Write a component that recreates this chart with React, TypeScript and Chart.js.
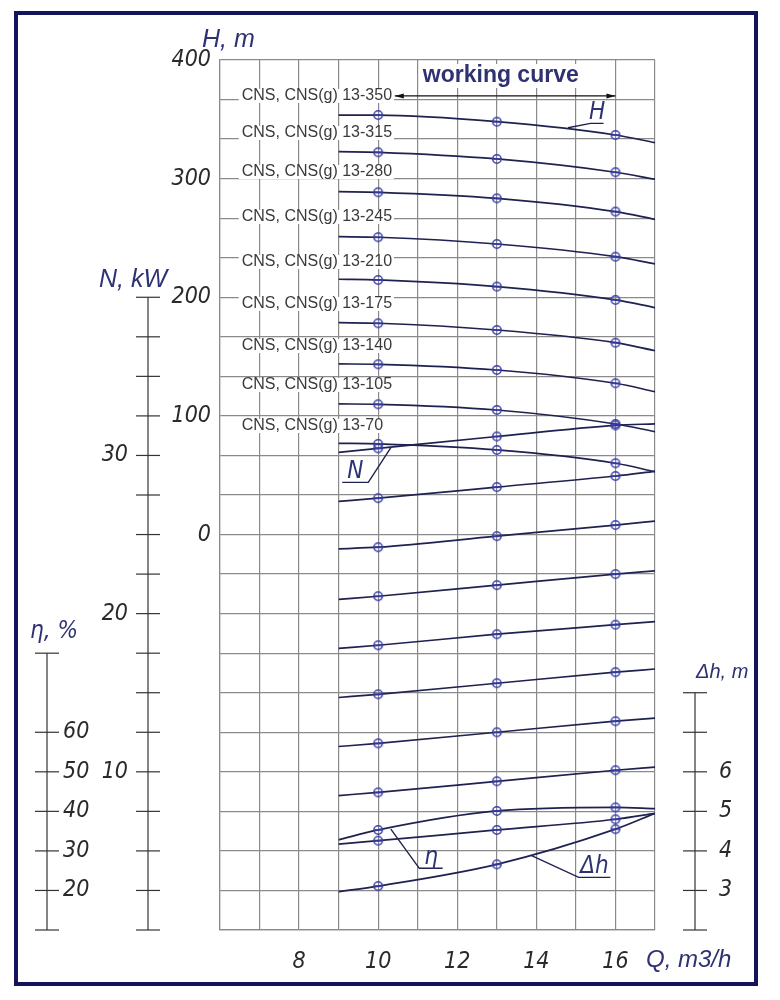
import { useEffect, useRef } from 'react'
import Chart from 'chart.js/auto'

// flow rate, m3/h
const flow = [9, 10, 13, 16, 17]
const markedFlow = [10, 13, 16]
const flowGrid = [6, 7, 8, 9, 10, 11, 12, 13, 14, 15, 16, 17]
const flowTickLabels = [8, 10, 12, 14, 16]

const pumpNames = [
  'CNS, CNS(g) 13-350',
  'CNS, CNS(g) 13-315',
  'CNS, CNS(g) 13-280',
  'CNS, CNS(g) 13-245',
  'CNS, CNS(g) 13-210',
  'CNS, CNS(g) 13-175',
  'CNS, CNS(g) 13-140',
  'CNS, CNS(g) 13-105',
  'CNS, CNS(g) 13-70',
]
const nameHead = [369.7, 338.5, 305.6, 267.7, 229.8, 194.4, 158.9, 126.1, 91.5]

// head H, m
const head350 = [353.6, 353.6, 348.0, 336.8, 330.3]
const head315 = [322.7, 322.2, 316.6, 305.4, 299.5]
const head280 = [289.0, 288.5, 283.4, 272.2, 265.7]
const head245 = [251.1, 250.6, 244.9, 234.2, 228.1]
const head210 = [215.2, 214.6, 209.0, 197.8, 191.3]
const head175 = [178.6, 178.1, 172.4, 161.7, 155.0]
const head140 = [143.8, 143.5, 138.7, 127.5, 120.4]
const head105 = [110.1, 109.8, 105.0, 93.2, 86.7]
const head70 = [76.9, 76.4, 71.3, 60.1, 53.0]

// power N, kW
const power350 = [30.2, 30.45, 31.2, 31.9, 32.0]
const power315 = [27.1, 27.3, 28.0, 28.7, 29.0]
const power280 = [24.1, 24.2, 24.9, 25.6, 25.85]
const power245 = [20.9, 21.1, 21.8, 22.5, 22.7]
const power210 = [17.8, 18.0, 18.7, 19.3, 19.5]
const power175 = [14.7, 14.9, 15.6, 16.3, 16.5]
const power140 = [11.6, 11.8, 12.5, 13.2, 13.4]
const power105 = [8.5, 8.7, 9.4, 10.1, 10.3]

// efficiency, %
const eff1 = [32.8, 35.3, 40.1, 41.0, 40.7]
const eff2 = [31.7, 32.6, 35.3, 38.0, 39.5]

// NPSH required, m
const npsh = [2.97, 3.11, 3.66, 4.55, 4.95]

const headMin = -1000 / 3
const headMax = 400
const headStep = 100 / 3
const headTickLabels = [0, 100, 200, 300, 400]

const powerTicks = [0, 2.5, 5, 7.5, 10, 12.5, 15, 17.5, 20, 22.5, 25, 27.5, 30, 32.5, 35, 37.5, 40]
const powerTickLabels = [10, 20, 30]
const effTicks = [10, 20, 30, 40, 50, 60, 80]
const effTickLabels = [20, 30, 40, 50, 60]
const npshTicks = [2, 3, 4, 5, 6, 7, 8]
const npshTickLabels = [3, 4, 5, 6]

const curveColor = '#1f2150'
const markColor = '#3a3fa8'
const gridColor = '#8a8a8a'
const navy = '#2e3272'
const isoFont = '"DejaVu Sans Condensed", "Liberation Sans Narrow", "DejaVu Sans", sans-serif'
const plainFont = '"Liberation Sans", Arial, sans-serif'

type Pointer = { text: string; axis: string; from: [number, number]; knee: [number, number]; end: number }
const pointers: Pointer[] = [
  { text: 'H', axis: 'y', from: [14.8, 342.9], knee: [15.37, 346.6], end: 15.7 },
  { text: 'N', axis: 'yN', from: [10.32, 30.5], knee: [9.75, 28.3], end: 9.09 },
  { text: 'η', axis: 'yE', from: [10.32, 35.5], knee: [11.04, 25.6], end: 11.63 },
  { text: 'Δh', axis: 'yD', from: [13.88, 3.88], knee: [15.07, 3.33], end: 15.87 },
]

function makeMarker() {
  const c = document.createElement('canvas')
  c.width = 12
  c.height = 12
  const g = c.getContext('2d')!
  g.strokeStyle = markColor
  g.lineWidth = 1.5
  g.beginPath()
  g.arc(6, 6, 4.2, 0, Math.PI * 2)
  g.stroke()
  g.beginPath()
  g.moveTo(1.8, 6)
  g.lineTo(10.2, 6)
  g.stroke()
  return c
}

function sideAxis(ctx: CanvasRenderingContext2D, scale: any, x: number, ticks: number[], labels: number[], labelX: number, align: CanvasTextAlign) {
  ctx.strokeStyle = '#333'
  ctx.lineWidth = 1.2
  ctx.beginPath()
  ctx.moveTo(x, scale.getPixelForValue(ticks[ticks.length - 1]))
  ctx.lineTo(x, scale.getPixelForValue(ticks[0]))
  ctx.stroke()
  ticks.forEach((t) => {
    const y = scale.getPixelForValue(t)
    ctx.beginPath()
    ctx.moveTo(x - 12, y)
    ctx.lineTo(x + 12, y)
    ctx.stroke()
  })
  ctx.fillStyle = '#2a2a2a'
  ctx.font = `italic 23px ${isoFont}`
  ctx.textAlign = align
  ctx.textBaseline = 'middle'
  labels.forEach((l) => ctx.fillText(String(l), labelX, scale.getPixelForValue(l)))
}

const drawing = {
  id: 'drawing',
  beforeDatasetsDraw(chart: any) {
    const { ctx } = chart
    const xs = chart.scales.x
    const ys = chart.scales.y
    ctx.save()
    ctx.font = `16px ${plainFont}`
    ctx.textBaseline = 'middle'
    ctx.textAlign = 'left'
    pumpNames.forEach((name, i) => {
      const x = xs.getPixelForValue(6.55)
      const y = ys.getPixelForValue(nameHead[i])
      const w = ctx.measureText(name).width
      ctx.fillStyle = '#fff'
      ctx.fillRect(x - 3, y - 7, w + 5, 14)
      ctx.fillStyle = '#3a3a3a'
      ctx.fillText(name, x, y)
    })
    // working range arrow
    const ay = ys.getPixelForValue(nameHead[0])
    const ax1 = xs.getPixelForValue(10.42)
    const ax2 = xs.getPixelForValue(16)
    ctx.strokeStyle = '#111'
    ctx.lineWidth = 1.3
    ctx.beginPath()
    ctx.moveTo(ax1, ay)
    ctx.lineTo(ax2, ay)
    ctx.stroke()
    ctx.fillStyle = '#111'
    ctx.beginPath()
    ctx.moveTo(ax1, ay)
    ctx.lineTo(ax1 + 9, ay - 2.5)
    ctx.lineTo(ax1 + 9, ay + 2.5)
    ctx.fill()
    ctx.beginPath()
    ctx.moveTo(ax2, ay)
    ctx.lineTo(ax2 - 9, ay - 2.5)
    ctx.lineTo(ax2 - 9, ay + 2.5)
    ctx.fill()
    ctx.font = `bold 23px ${plainFont}`
    ctx.textAlign = 'center'
    const tx = xs.getPixelForValue(13.1)
    const ty = ys.getPixelForValue(386.5)
    const tw = ctx.measureText('working curve').width
    ctx.fillStyle = '#fff'
    ctx.fillRect(tx - tw / 2 - 3, ty - 12, tw + 6, 24)
    ctx.fillStyle = navy
    ctx.fillText('working curve', tx, ty)
    ctx.restore()
  },
  afterDatasetsDraw(chart: any) {
    const { ctx } = chart
    const xs = chart.scales.x
    ctx.save()
    ctx.strokeStyle = curveColor
    ctx.fillStyle = navy
    ctx.lineWidth = 1.4
    ctx.font = `italic 24px ${isoFont}`
    ctx.textAlign = 'center'
    ctx.textBaseline = 'bottom'
    pointers.forEach((p) => {
      const s = chart.scales[p.axis]
      const fx = xs.getPixelForValue(p.from[0])
      const fy = s.getPixelForValue(p.from[1])
      const kx = xs.getPixelForValue(p.knee[0])
      const ky = s.getPixelForValue(p.knee[1])
      const ex = xs.getPixelForValue(p.end)
      ctx.beginPath()
      ctx.moveTo(fx, fy)
      ctx.lineTo(kx, ky)
      ctx.lineTo(ex, ky)
      ctx.stroke()
      ctx.fillText(p.text, (kx + ex) / 2, ky + 1)
    })
    ctx.restore()
  },
  afterDraw(chart: any) {
    const { ctx } = chart
    ctx.save()
    sideAxis(ctx, chart.scales.yN, 148, powerTicks, powerTickLabels, 128, 'right')
    sideAxis(ctx, chart.scales.yE, 47, effTicks, effTickLabels, 63, 'left')
    sideAxis(ctx, chart.scales.yD, 695, npshTicks, npshTickLabels, 719, 'left')
    ctx.fillStyle = navy
    ctx.textBaseline = 'middle'
    ctx.textAlign = 'left'
    ctx.font = `italic 25px ${plainFont}`
    ctx.fillText('H, m', 202, 40)
    ctx.fillText('N, kW', 99, 280)
    ctx.font = `italic 20px ${plainFont}`
    ctx.fillText('Δh, m', 696, 672)
    ctx.font = `italic 24px ${isoFont}`
    ctx.fillText('η, %', 30, 632)
    ctx.font = `italic 24px ${plainFont}`
    ctx.fillText('Q, m3/h', 646, 960)
    ctx.restore()
  },
}

export default function App() {
  const canvasRef = useRef<HTMLCanvasElement>(null)

  useEffect(() => {
    document.body.style.margin = '0'
    if (!canvasRef.current) return
    const marker = makeMarker()

    const curve = (values: number[], yAxisID: string) => ({
      data: flow.map((q, i) => ({ x: q, y: values[i] })),
      yAxisID,
      borderColor: curveColor,
      borderWidth: 1.7,
      cubicInterpolationMode: 'monotone' as const,
      fill: false,
      pointStyle: marker,
      pointRadius: (c: any) => (markedFlow.includes(flow[c.dataIndex]) ? 4 : 0),
      pointHoverRadius: 0,
    })

    const heads = [head350, head315, head280, head245, head210, head175, head140, head105, head70]
    const powers = [power350, power315, power280, power245, power210, power175, power140, power105]

    const tickFont = { family: isoFont, size: 23, style: 'italic' as const }

    const chart = new Chart(canvasRef.current, {
      type: 'line',
      data: {
        datasets: [
          ...heads.map((h) => curve(h, 'y')),
          ...powers.map((p) => curve(p, 'yN')),
          curve(eff1, 'yE'),
          curve(eff2, 'yE'),
          curve(npsh, 'yD'),
        ],
      },
      options: {
        responsive: false,
        animation: false,
        events: [],
        layout: { padding: { left: 160, right: 125, top: 60, bottom: 20 } },
        plugins: { legend: { display: false }, tooltip: { enabled: false } },
        scales: {
          x: {
            type: 'linear',
            min: 6,
            max: 17,
            afterBuildTicks: (s: any) => {
              s.ticks = flowGrid.map((v) => ({ value: v }))
            },
            afterFit: (s: any) => {
              s.height = 50
            },
            ticks: {
              autoSkip: false,
              maxRotation: 0,
              padding: 18,
              color: '#2a2a2a',
              font: tickFont,
              callback: (v: any) => (flowTickLabels.includes(Number(v)) ? String(v) : ''),
            },
            grid: { color: gridColor, lineWidth: 1.2, drawTicks: false },
            border: { color: gridColor, width: 1.2 },
          },
          y: {
            type: 'linear',
            position: 'left',
            min: headMin,
            max: headMax,
            afterBuildTicks: (s: any) => {
              const t = []
              for (let v = headMin; v <= headMax + 0.01; v += headStep) t.push({ value: v })
              s.ticks = t
            },
            afterFit: (s: any) => {
              s.width = 60
            },
            ticks: {
              autoSkip: false,
              padding: 9,
              color: '#2a2a2a',
              font: tickFont,
              callback: (v: any) => {
                const r = Math.round(Number(v))
                return Math.abs(Number(v) - r) < 0.01 && headTickLabels.includes(r) ? String(r) : ''
              },
            },
            grid: { color: gridColor, lineWidth: 1.2, drawTicks: false },
            border: { color: gridColor, width: 1.2 },
          },
          yN: { type: 'linear', display: false, min: 0, max: 55 },
          yE: { type: 'linear', display: false, min: 10, max: 230 },
          yD: { type: 'linear', display: false, min: 2, max: 24 },
        },
      },
      plugins: [drawing],
    })

    return () => chart.destroy()
  }, [])

  return (
    <div style={{ position: 'relative', width: 780, height: 1000, background: '#fff' }}>
      <canvas ref={canvasRef} width={780} height={1000} />
      <div
        style={{
          position: 'absolute',
          left: 14,
          top: 11,
          width: 744,
          height: 975,
          boxSizing: 'border-box',
          border: '4px solid #14145c',
          pointerEvents: 'none',
        }}
      />
    </div>
  )
}
